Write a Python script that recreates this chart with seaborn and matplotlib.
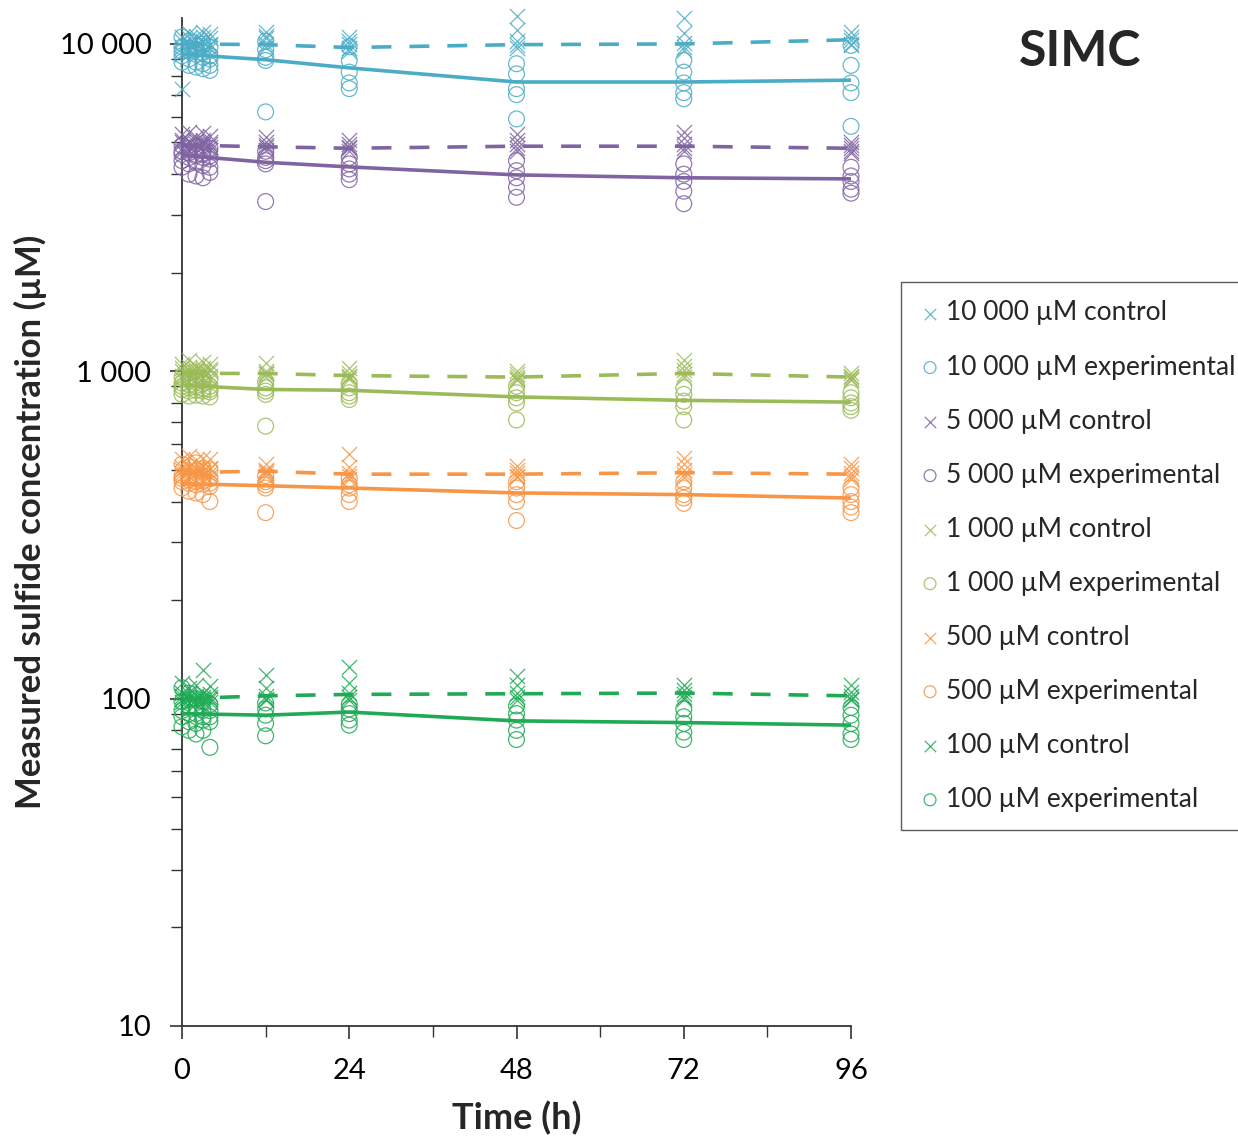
import numpy as np
import pandas as pd
import matplotlib
matplotlib.use("Agg")
import matplotlib.pyplot as plt
import seaborn as sns

sns.set_theme(style="white")
plt.rcParams['font.family'] = ['Lato', 'DejaVu Sans']

# ---------------- data ----------------
times = [0, 1, 2, 3, 4, 12, 24, 48, 72, 96]
line_times = [0, 12, 24, 48, 72, 96]
conc_labels = ["10 000", "5 000", "1 000", "500", "100"]
conc_colors = ["#4bacc6", "#8064a2", "#9bbb59", "#f79646", "#1faa55"]
x_ticks = [0, 24, 48, 72, 96]
x_minor = [12, 36, 60, 84]
y_ticks = [10, 100, 1000, 10000]
y_tick_labels = ["10", "100", "1 000", "10 000"]

# replicate measurements per time point (µM)
ctrl_10000 = [[10500, 9800, 9300, 7300, 10200], [10800, 10100, 9600, 9900, 10400],
              [10300, 9700, 10600, 9900, 9500], [10900, 10200, 9800, 9600, 10500],
              [10400, 10000, 9700, 10700, 9900], [10900, 10400, 10000, 9800, 10600],
              [10500, 10000, 9700, 9500, 10200], [12200, 11000, 10200, 9900, 9700],
              [12000, 10800, 10100, 9800, 9600], [10900, 10500, 10300, 10000, 9900]]
exp_10000 = [[10500, 9800, 9200, 8800, 9500], [10200, 9500, 9000, 8600, 9700],
             [9900, 9300, 8800, 8500, 9600], [10000, 9400, 8700, 8400, 9100],
             [9800, 9200, 8600, 8300, 9000], [10200, 9600, 9100, 8900, 6200],
             [9800, 8900, 8200, 7600, 7300], [8700, 8100, 7300, 7000, 5900],
             [8900, 8200, 7600, 7100, 6800], [9900, 8600, 7600, 7100, 5600]]
ctrl_5000 = [[5300, 5000, 4800, 4700, 5100], [5400, 5050, 4850, 4750, 4950],
             [5200, 4950, 4800, 4650, 5050], [5350, 5000, 4900, 4700, 5100],
             [5250, 5000, 4850, 4750, 4950], [5200, 5000, 4850, 4750, 4900],
             [5100, 4950, 4800, 4700, 4850], [5300, 5100, 4950, 4800, 4700],
             [5400, 5150, 4950, 4800, 4700], [5000, 4900, 4800, 4700, 4650]]
exp_5000 = [[4900, 4600, 4400, 4200, 4700], [4800, 4500, 4300, 4000, 4650],
            [4850, 4550, 4350, 3950, 4600], [4750, 4500, 4250, 3900, 4600],
            [4800, 4450, 4200, 4050, 4550], [4700, 4500, 4400, 4300, 3300],
            [4500, 4300, 4150, 4000, 3850], [4400, 4100, 3900, 3650, 3400],
            [4300, 4000, 3800, 3550, 3250], [4200, 3950, 3800, 3600, 3500]]
ctrl_1000 = [[1050, 1000, 970, 950, 1020], [1080, 1010, 980, 960, 1030],
             [1040, 995, 975, 950, 1010], [1070, 1005, 985, 955, 1025],
             [1050, 1000, 970, 950, 1015], [1060, 1000, 980, 960, 990],
             [1020, 990, 970, 950, 960], [1000, 980, 960, 940, 950],
             [1080, 1040, 1010, 980, 960], [990, 970, 960, 940, 950]]
exp_1000 = [[960, 920, 880, 850, 900], [950, 910, 870, 840, 890],
            [955, 905, 875, 845, 895], [945, 915, 870, 840, 885],
            [950, 900, 865, 835, 880], [930, 890, 870, 850, 680],
            [920, 890, 860, 840, 820], [900, 860, 830, 800, 710],
            [890, 850, 810, 780, 710], [860, 830, 800, 780, 760]]
ctrl_500 = [[540, 510, 490, 480, 500], [550, 515, 495, 480, 505],
            [535, 505, 490, 478, 500], [545, 512, 492, 482, 498],
            [538, 508, 488, 480, 502], [520, 500, 490, 480, 495],
            [560, 510, 490, 480, 470], [515, 500, 490, 480, 475],
            [545, 520, 500, 485, 475], [520, 505, 490, 480, 470]]
exp_500 = [[520, 480, 460, 440, 470], [510, 475, 455, 430, 465],
           [525, 470, 450, 425, 460], [505, 478, 452, 420, 462],
           [500, 470, 445, 400, 455], [480, 460, 450, 440, 370],
           [470, 450, 440, 420, 400], [460, 440, 420, 400, 350],
           [460, 440, 420, 410, 395], [440, 420, 400, 385, 370]]
ctrl_100 = [[112, 104, 100, 98, 102], [108, 103, 100, 97, 101],
            [110, 102, 99, 97, 100], [122, 104, 100, 98, 101],
            [109, 103, 100, 98, 101], [118, 108, 102, 100, 99],
            [125, 112, 104, 101, 99], [117, 110, 104, 101, 99],
            [110, 106, 103, 101, 100], [110, 105, 102, 100, 99]]
exp_100 = [[108, 98, 92, 88, 82], [104, 95, 90, 85, 80],
           [100, 94, 90, 84, 78], [98, 92, 88, 86, 80],
           [96, 92, 88, 85, 71], [97, 93, 89, 84, 77],
           [96, 93, 90, 86, 83], [95, 90, 86, 80, 75],
           [93, 88, 84, 79, 75], [94, 89, 84, 78, 75]]

# mean trend lines
ctrl_mean_10000 = [10000, 9950, 9750, 9950, 10000, 10300]
exp_mean_10000 = [9300, 8950, 8450, 7650, 7650, 7750]
ctrl_mean_5000 = [4910, 4850, 4800, 4870, 4870, 4800]
exp_mean_5000 = [4570, 4350, 4210, 3980, 3900, 3870]
ctrl_mean_1000 = [985, 985, 970, 960, 985, 960]
exp_mean_1000 = [906, 880, 875, 835, 815, 805]
ctrl_mean_500 = [491, 495, 485, 485, 490, 485]
exp_mean_500 = [454, 447, 440, 425, 420, 410]
ctrl_mean_100 = [100, 102, 103, 103.5, 104, 102]
exp_mean_100 = [90, 89, 91, 85.5, 84.5, 83]

ctrl_sets = [ctrl_10000, ctrl_5000, ctrl_1000, ctrl_500, ctrl_100]
exp_sets = [exp_10000, exp_5000, exp_1000, exp_500, exp_100]
ctrl_means = [ctrl_mean_10000, ctrl_mean_5000, ctrl_mean_1000, ctrl_mean_500, ctrl_mean_100]
exp_means = [exp_mean_10000, exp_mean_5000, exp_mean_1000, exp_mean_500, exp_mean_100]

def long_points(sets):
    rows = []
    for t, reps in zip(times, sets):
        for v in reps:
            rows.append({"time": t, "value": v})
    return pd.DataFrame(rows)

# ---------------- figure ----------------
fig = plt.figure(figsize=(12.38, 11.39), dpi=100)
ax = fig.add_axes([182/1238, 113/1139, 669/1238, 1008/1139])

for lab, col, cs, es, cm, em in zip(conc_labels, conc_colors, ctrl_sets, exp_sets, ctrl_means, exp_means):
    dc = long_points(cs)
    de = long_points(es)
    sns.scatterplot(data=dc, x="time", y="value", marker="x", s=120, color=col,
                    linewidth=0.9, alpha=0.85, ax=ax, label=f"{lab} µM control",
                    clip_on=False, zorder=3)
    sns.scatterplot(data=de, x="time", y="value", marker="o", s=130, facecolor="none",
                    edgecolor=col, linewidth=0.9, alpha=0.85, ax=ax,
                    label=f"{lab} µM experimental", clip_on=False, zorder=3)
    lc = pd.DataFrame({"time": line_times, "value": cm})
    le = pd.DataFrame({"time": line_times, "value": em})
    sns.lineplot(data=lc, x="time", y="value", color=col, lw=2.6, ax=ax,
                 legend=False, zorder=4).lines[-1].set_dashes([5.5, 5])
    sns.lineplot(data=le, x="time", y="value", color=col, lw=2.6, ax=ax,
                 legend=False, zorder=4)

handles, labels = ax.get_legend_handles_labels()
if ax.get_legend() is not None:
    ax.get_legend().remove()

ax.set_yscale("log")
ax.set_ylim(10, 12000)
ax.set_xlim(0, 96)
ax.set_xticks(x_ticks)
ax.set_xticks(x_minor, minor=True)
ax.set_yticks(y_ticks)
ax.set_yticklabels(y_tick_labels)
ax.yaxis.set_minor_locator(matplotlib.ticker.LogLocator(base=10, subs=np.arange(2, 10)))
ax.yaxis.set_minor_formatter(matplotlib.ticker.NullFormatter())

for s in ["top", "right"]:
    ax.spines[s].set_visible(False)
for s in ["left", "bottom"]:
    ax.spines[s].set_color("#333333")
    ax.spines[s].set_linewidth(1.3)

ax.tick_params(axis="both", which="major", direction="out", length=9, width=1.2,
               color="#333333", labelsize=21, labelcolor="black", left=True, bottom=True)
ax.tick_params(axis="both", which="minor", direction="out", length=8, width=1.0,
               color="#333333", left=True, bottom=True)
ax.tick_params(axis="x", pad=14)
ax.tick_params(axis="y", pad=13)

ax.set_xlabel("Time (h)", fontsize=26, fontweight="bold", labelpad=12)
ax.set_ylabel("Measured sulfide concentration (µM)", fontsize=25, fontweight="bold", labelpad=9)

fig.text(1080/1238, 1 - 52/1139, "SIMC", fontsize=36, fontweight="bold",
         ha="center", va="center")

leg = fig.legend(handles, labels, loc="upper left", bbox_to_anchor=(901/1238, 1 - 282/1139),
                 fontsize=19, frameon=True, fancybox=False, edgecolor="#333333",
                 markerscale=0.75, handlelength=0.8, handletextpad=0.2,
                 labelspacing=1.1, borderpad=0.7, borderaxespad=0)
leg.get_frame().set_linewidth(1.0)

fig.savefig("out.png", dpi=100)
